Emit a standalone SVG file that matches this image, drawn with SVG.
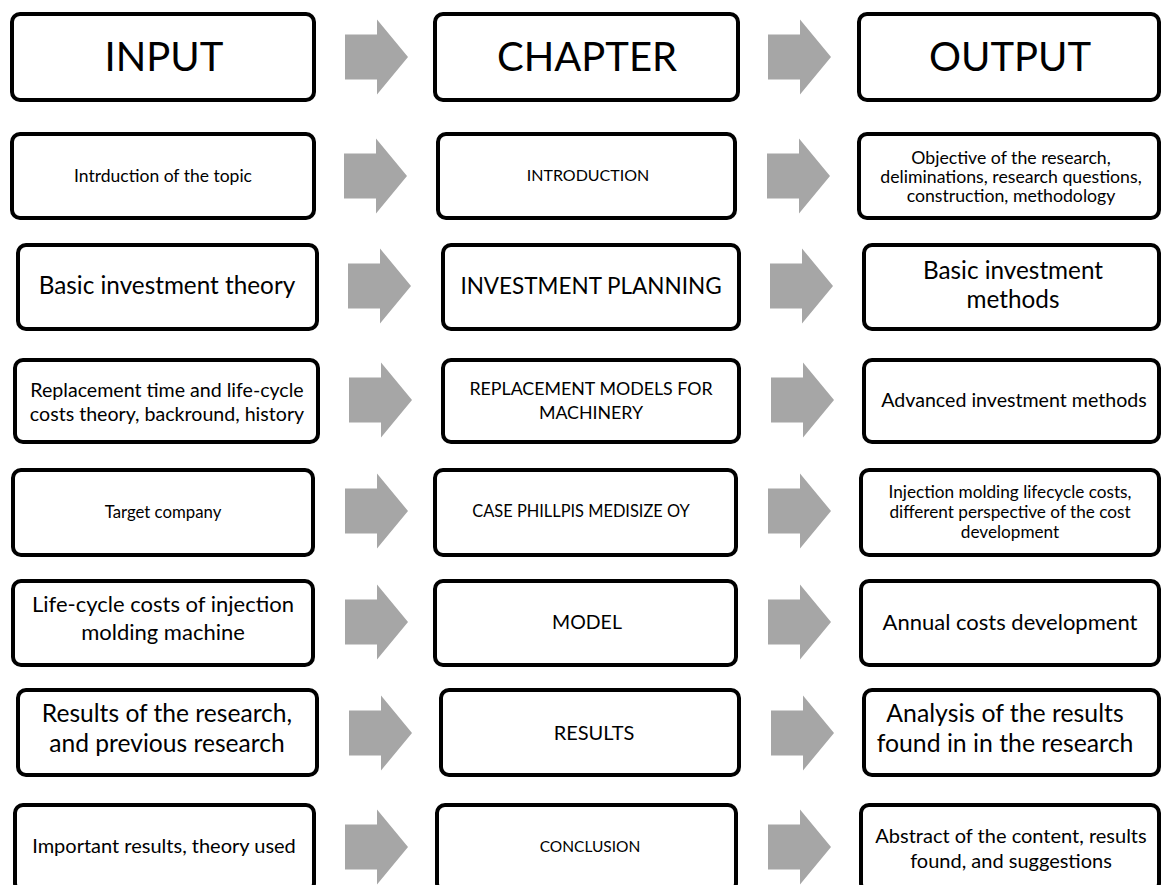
<svg xmlns="http://www.w3.org/2000/svg" xmlns:xlink="http://www.w3.org/1999/xlink" width="1163" height="885" viewBox="0 0 1163 885">
<style>
.box{fill:#fff;stroke:#000;stroke-width:4}
.t{font-family:Lato,"Liberation Sans",sans-serif;text-anchor:middle;fill:#000}
.arr{fill:#a6a6a6}
</style>
<defs>
<path id="arr" d="M0,-22.5 H32 V-37.5 L63,0 L32,37.5 V22.5 H0 Z"/>
</defs>
<rect width="1163" height="885" fill="#fff"/>
<g id="connectors" class="arr">
<use xlink:href="#arr" x="345" y="57"/>
<use xlink:href="#arr" x="768" y="57"/>
<use xlink:href="#arr" x="344" y="176"/>
<use xlink:href="#arr" x="767" y="176"/>
<use xlink:href="#arr" x="348" y="286"/>
<use xlink:href="#arr" x="770" y="286"/>
<use xlink:href="#arr" x="349" y="400"/>
<use xlink:href="#arr" x="771" y="400"/>
<use xlink:href="#arr" x="345" y="511"/>
<use xlink:href="#arr" x="768" y="511"/>
<use xlink:href="#arr" x="345" y="622"/>
<use xlink:href="#arr" x="768" y="622"/>
<use xlink:href="#arr" x="349" y="733"/>
<use xlink:href="#arr" x="771" y="733"/>
<use xlink:href="#arr" x="345" y="847"/>
<use xlink:href="#arr" x="768" y="847"/>
</g>
<g id="input-header"><rect class="box" x="12" y="14" width="302" height="86" rx="8"/><text class="t" x="164" y="71" font-size="40">INPUT</text></g>
<g id="chapter-header"><rect class="box" x="435" y="14" width="303" height="86" rx="8"/><text class="t" x="587" y="71" font-size="40">CHAPTER</text></g>
<g id="output-header"><rect class="box" x="859" y="14" width="300" height="86" rx="8"/><text class="t" x="1010" y="71" font-size="40">OUTPUT</text></g>

<g id="in-1"><rect class="box" x="12" y="134" width="302" height="84" rx="8"/><text class="t" x="163" y="182" font-size="17.5">Intrduction of the topic</text></g>
<g id="ch-1"><rect class="box" x="438" y="134" width="297" height="84" rx="8"/><text class="t" x="588" y="181" font-size="16">INTRODUCTION</text></g>
<g id="out-1"><rect class="box" x="859" y="134" width="300" height="84" rx="8"/><text class="t" font-size="17.7"><tspan x="1011" y="164">Objective of the research,</tspan><tspan x="1011" y="183">deliminations, research questions,</tspan><tspan x="1011" y="202">construction, methodology</tspan></text></g>

<g id="in-2"><rect class="box" x="18" y="245" width="299" height="84" rx="8"/><text class="t" x="167" y="294" font-size="24.3">Basic investment theory</text></g>
<g id="ch-2"><rect class="box" x="443" y="245" width="296" height="84" rx="8"/><text class="t" x="591" y="294" font-size="22.5">INVESTMENT PLANNING</text></g>
<g id="out-2"><rect class="box" x="864" y="245" width="295" height="84" rx="8"/><text class="t" font-size="24.3"><tspan x="1013" y="279">Basic investment</tspan><tspan x="1013" y="308">methods</tspan></text></g>

<g id="in-3"><rect class="box" x="15" y="360" width="303" height="82" rx="8"/><text class="t" font-size="19.6"><tspan x="167" y="397">Replacement time and life-cycle</tspan><tspan x="167" y="421">costs theory, backround, history</tspan></text></g>
<g id="ch-3"><rect class="box" x="443" y="360" width="296" height="82" rx="8"/><text class="t" font-size="17.8"><tspan x="591" y="395">REPLACEMENT MODELS FOR</tspan><tspan x="591" y="419">MACHINERY</tspan></text></g>
<g id="out-3"><rect class="box" x="864" y="360" width="295" height="82" rx="8"/><text class="t" x="1014" y="407" font-size="19.6">Advanced investment methods</text></g>

<g id="in-4"><rect class="box" x="13" y="470" width="300" height="85" rx="8"/><text class="t" x="163" y="518" font-size="16.8">Target company</text></g>
<g id="ch-4"><rect class="box" x="435" y="470" width="301" height="85" rx="8"/><text class="t" x="581" y="517" font-size="16.4">CASE PHILLPIS MEDISIZE OY</text></g>
<g id="out-4"><rect class="box" x="861" y="470" width="298" height="85" rx="8"/><text class="t" font-size="17.2"><tspan x="1010" y="498">Injection molding lifecycle costs,</tspan><tspan x="1010" y="518">different perspective of the cost</tspan><tspan x="1010" y="538">development</tspan></text></g>

<g id="in-5"><rect class="box" x="13" y="581" width="300" height="84" rx="8"/><text class="t" font-size="22"><tspan x="163" y="612">Life-cycle costs of injection</tspan><tspan x="163" y="640">molding machine</tspan></text></g>
<g id="ch-5"><rect class="box" x="435" y="581" width="301" height="84" rx="8"/><text class="t" x="587" y="629" font-size="19.5">MODEL</text></g>
<g id="out-5"><rect class="box" x="861" y="581" width="298" height="84" rx="8"/><text class="t" x="1010" y="630" font-size="22">Annual costs development</text></g>

<g id="in-6"><rect class="box" x="18" y="690" width="299" height="85" rx="8"/><text class="t" font-size="24.6"><tspan x="167" y="722">Results of the research,</tspan><tspan x="167" y="752">and previous research</tspan></text></g>
<g id="ch-6"><rect class="box" x="441" y="690" width="298" height="85" rx="8"/><text class="t" x="594" y="740" font-size="20">RESULTS</text></g>
<g id="out-6"><rect class="box" x="864" y="690" width="295" height="85" rx="8"/><text class="t" font-size="24.8"><tspan x="1005" y="722">Analysis of the results</tspan><tspan x="1005" y="752">found in in the research</tspan></text></g>

<g id="in-7"><rect class="box" x="15" y="805" width="299" height="86" rx="8"/><text class="t" x="164" y="853" font-size="20">Important results, theory used</text></g>
<g id="ch-7"><rect class="box" x="437" y="805" width="299" height="86" rx="8"/><text class="t" x="590" y="852" font-size="15.5">CONCLUSION</text></g>
<g id="out-7"><rect class="box" x="861" y="805" width="298" height="86" rx="8"/><text class="t" font-size="20"><tspan x="1011" y="843">Abstract of the content, results</tspan><tspan x="1011" y="868">found, and suggestions</tspan></text></g>
</svg>
